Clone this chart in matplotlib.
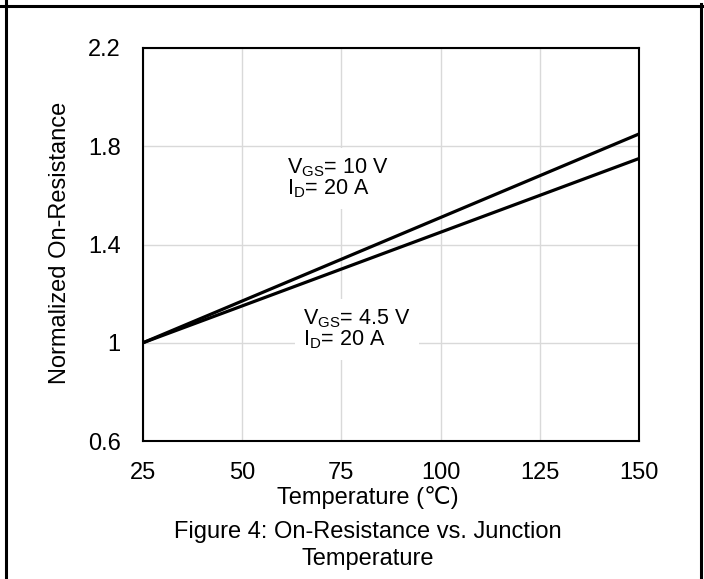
import matplotlib
matplotlib.use("Agg")
import matplotlib.pyplot as plt
from matplotlib.lines import Line2D

# === Daten ===
temperature = [25, 50, 75, 100, 125, 150]
rds_vgs10 = [1.00, 1.17, 1.34, 1.51, 1.68, 1.85]
rds_vgs45 = [1.00, 1.15, 1.30, 1.45, 1.60, 1.75]

x_ticks = [25, 50, 75, 100, 125, 150]
y_ticks = [0.6, 1.0, 1.4, 1.8, 2.2]
y_tick_labels = ["0.6", "1", "1.4", "1.8", "2.2"]

plt.rcParams['font.family'] = ['Liberation Sans', 'DejaVu Sans']
plt.rcParams['mathtext.fontset'] = 'custom'
plt.rcParams['mathtext.rm'] = 'Liberation Sans'
plt.rcParams['mathtext.it'] = 'Liberation Sans'

W, H = 704, 579
fs = 17
fs_note = 15.5

fig = plt.figure(figsize=(W / 100, H / 100), dpi=100)
ax = fig.add_axes([143 / W, 1 - 441 / H, 496 / W, 393 / H])

ax.plot(temperature, rds_vgs10, color='black', lw=2.3, solid_capstyle='butt', zorder=3)
ax.plot(temperature, rds_vgs45, color='black', lw=2.3, solid_capstyle='butt', zorder=3)

ax.set_xlim(25, 150)
ax.set_ylim(0.6, 2.2)
ax.set_xticks(x_ticks)
ax.set_yticks(y_ticks)
ax.set_yticklabels(y_tick_labels)
ax.tick_params(axis='both', length=0, labelsize=fs)
ax.tick_params(axis='y', pad=16)
ax.tick_params(axis='x', pad=15)
ax.grid(color='#d9d9d9', lw=1.0)
ax.set_axisbelow(True)
for s in ax.spines.values():
    s.set_linewidth(1.5)
    s.set_color('black')

# Beschriftungen der Kurven
box = dict(facecolor='white', edgecolor='none', pad=6)
ax.text(61.3, 1.67, "V$_{\\mathrm{GS}}$= 10 V\nI$_{\\mathrm{D}}$= 20 A",
        fontsize=fs_note, va='center', ha='left', linespacing=0.95, bbox=box, zorder=4)
ax.text(65.3, 1.055, "V$_{\\mathrm{GS}}$= 4.5 V\nI$_{\\mathrm{D}}$= 20 A",
        fontsize=fs_note, va='center', ha='left', linespacing=0.95, bbox=box, zorder=4)

fig.text(60 / W, 1 - 243 / H, "Normalized On-Resistance", rotation=90,
         fontsize=fs, ha='center', va='center')
fig.text(368 / W, 1 - 504 / H, "Temperature (\u2103)", fontsize=fs,
         ha='center', va='baseline')
fig.text(368 / W, 1 - 538 / H, "Figure 4: On-Resistance vs. Junction",
         fontsize=fs, ha='center', va='baseline')
fig.text(368 / W, 1 - 565 / H, "Temperature", fontsize=fs,
         ha='center', va='baseline')

# Rahmen
fig.add_artist(Line2D([0, 702 / W], [1 - 5.5 / H, 1 - 5.5 / H], color='black', lw=2.2,
                      transform=fig.transFigure))
fig.add_artist(Line2D([5.5 / W, 5.5 / W], [0, 1], color='black', lw=2.2,
                      transform=fig.transFigure))
fig.add_artist(Line2D([701 / W, 701 / W], [0, 1 - 4 / H], color='black', lw=2.2,
                      transform=fig.transFigure))

fig.savefig("out.png", dpi=100)
